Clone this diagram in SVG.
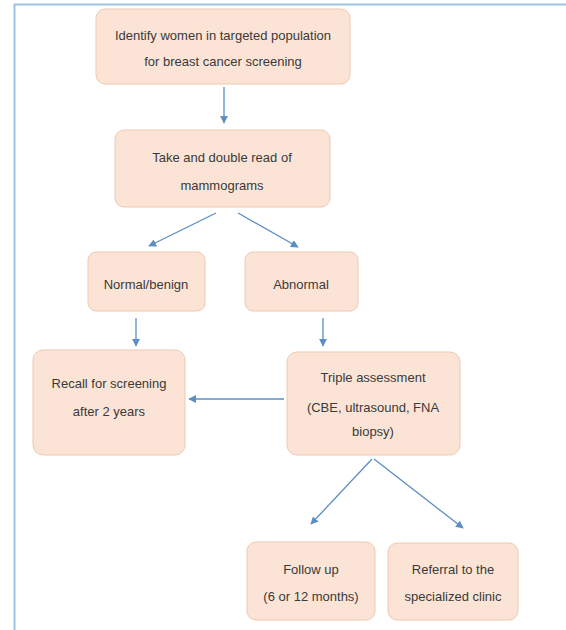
<svg xmlns="http://www.w3.org/2000/svg" width="566" height="630" viewBox="0 0 566 630">
<defs>
<style>
.box{fill:#fbe4d5;stroke:#efc9b1;stroke-width:1}
.t{font-family:"Liberation Sans",Arial,sans-serif;font-size:13px;fill:#3a3a3a;text-anchor:middle}
.c{stroke:#5b8ec4;stroke-width:1.3;fill:none;marker-end:url(#ah)}
</style>
<marker id="ah" viewBox="0 0 10 10" refX="9" refY="5" markerWidth="6" markerHeight="6" orient="auto-start-reverse">
<path d="M0,0 L10,5 L0,10 z" fill="#5b8ec4"/>
</marker>
</defs>
<rect width="566" height="630" fill="#ffffff"/>
<path d="M14.5,630 V4.5 H566" stroke="#9dc3e6" stroke-width="2" fill="none"/>
<g id="connectors">
<line class="c" x1="224" y1="87" x2="224" y2="123"/>
<line class="c" x1="216" y1="213" x2="149" y2="246"/>
<line class="c" x1="238" y1="213" x2="298" y2="247"/>
<line class="c" x1="136" y1="318" x2="136" y2="346"/>
<line class="c" x1="323" y1="318" x2="323" y2="346"/>
<line class="c" x1="284" y1="399" x2="189" y2="399"/>
<line class="c" x1="372" y1="459" x2="311" y2="524"/>
<line class="c" x1="374" y1="459" x2="463" y2="528"/>
</g>
<g id="n1">
<rect class="box" x="96" y="9" width="254" height="75" rx="9"/>
<text class="t" x="223" y="40">Identify women in targeted population</text>
<text class="t" x="223" y="66">for breast cancer screening</text>
</g>
<g id="n2">
<rect class="box" x="115" y="130" width="215" height="77" rx="9"/>
<text class="t" x="222" y="162">Take and double read of</text>
<text class="t" x="222" y="190">mammograms</text>
</g>
<g id="n3">
<rect class="box" x="88" y="252" width="117" height="59" rx="8"/>
<text class="t" x="146" y="289">Normal/benign</text>
</g>
<g id="n4">
<rect class="box" x="245" y="252" width="113" height="59" rx="8"/>
<text class="t" x="301" y="289">Abnormal</text>
</g>
<g id="n5">
<rect class="box" x="33" y="350" width="152" height="105" rx="10"/>
<text class="t" x="109" y="388">Recall for screening</text>
<text class="t" x="109" y="416">after 2 years</text>
</g>
<g id="n6">
<rect class="box" x="287" y="352" width="173" height="103" rx="10"/>
<text class="t" x="373" y="382">Triple assessment</text>
<text class="t" x="373" y="412">(CBE, ultrasound, FNA</text>
<text class="t" x="373" y="436">biopsy)</text>
</g>
<g id="n7">
<rect class="box" x="247" y="542" width="128" height="78" rx="9"/>
<text class="t" x="311" y="574">Follow up</text>
<text class="t" x="311" y="601">(6 or 12 months)</text>
</g>
<g id="n8">
<rect class="box" x="388" y="543" width="130" height="77" rx="9"/>
<text class="t" x="453" y="574">Referral to the</text>
<text class="t" x="453" y="601">specialized clinic</text>
</g>
</svg>
